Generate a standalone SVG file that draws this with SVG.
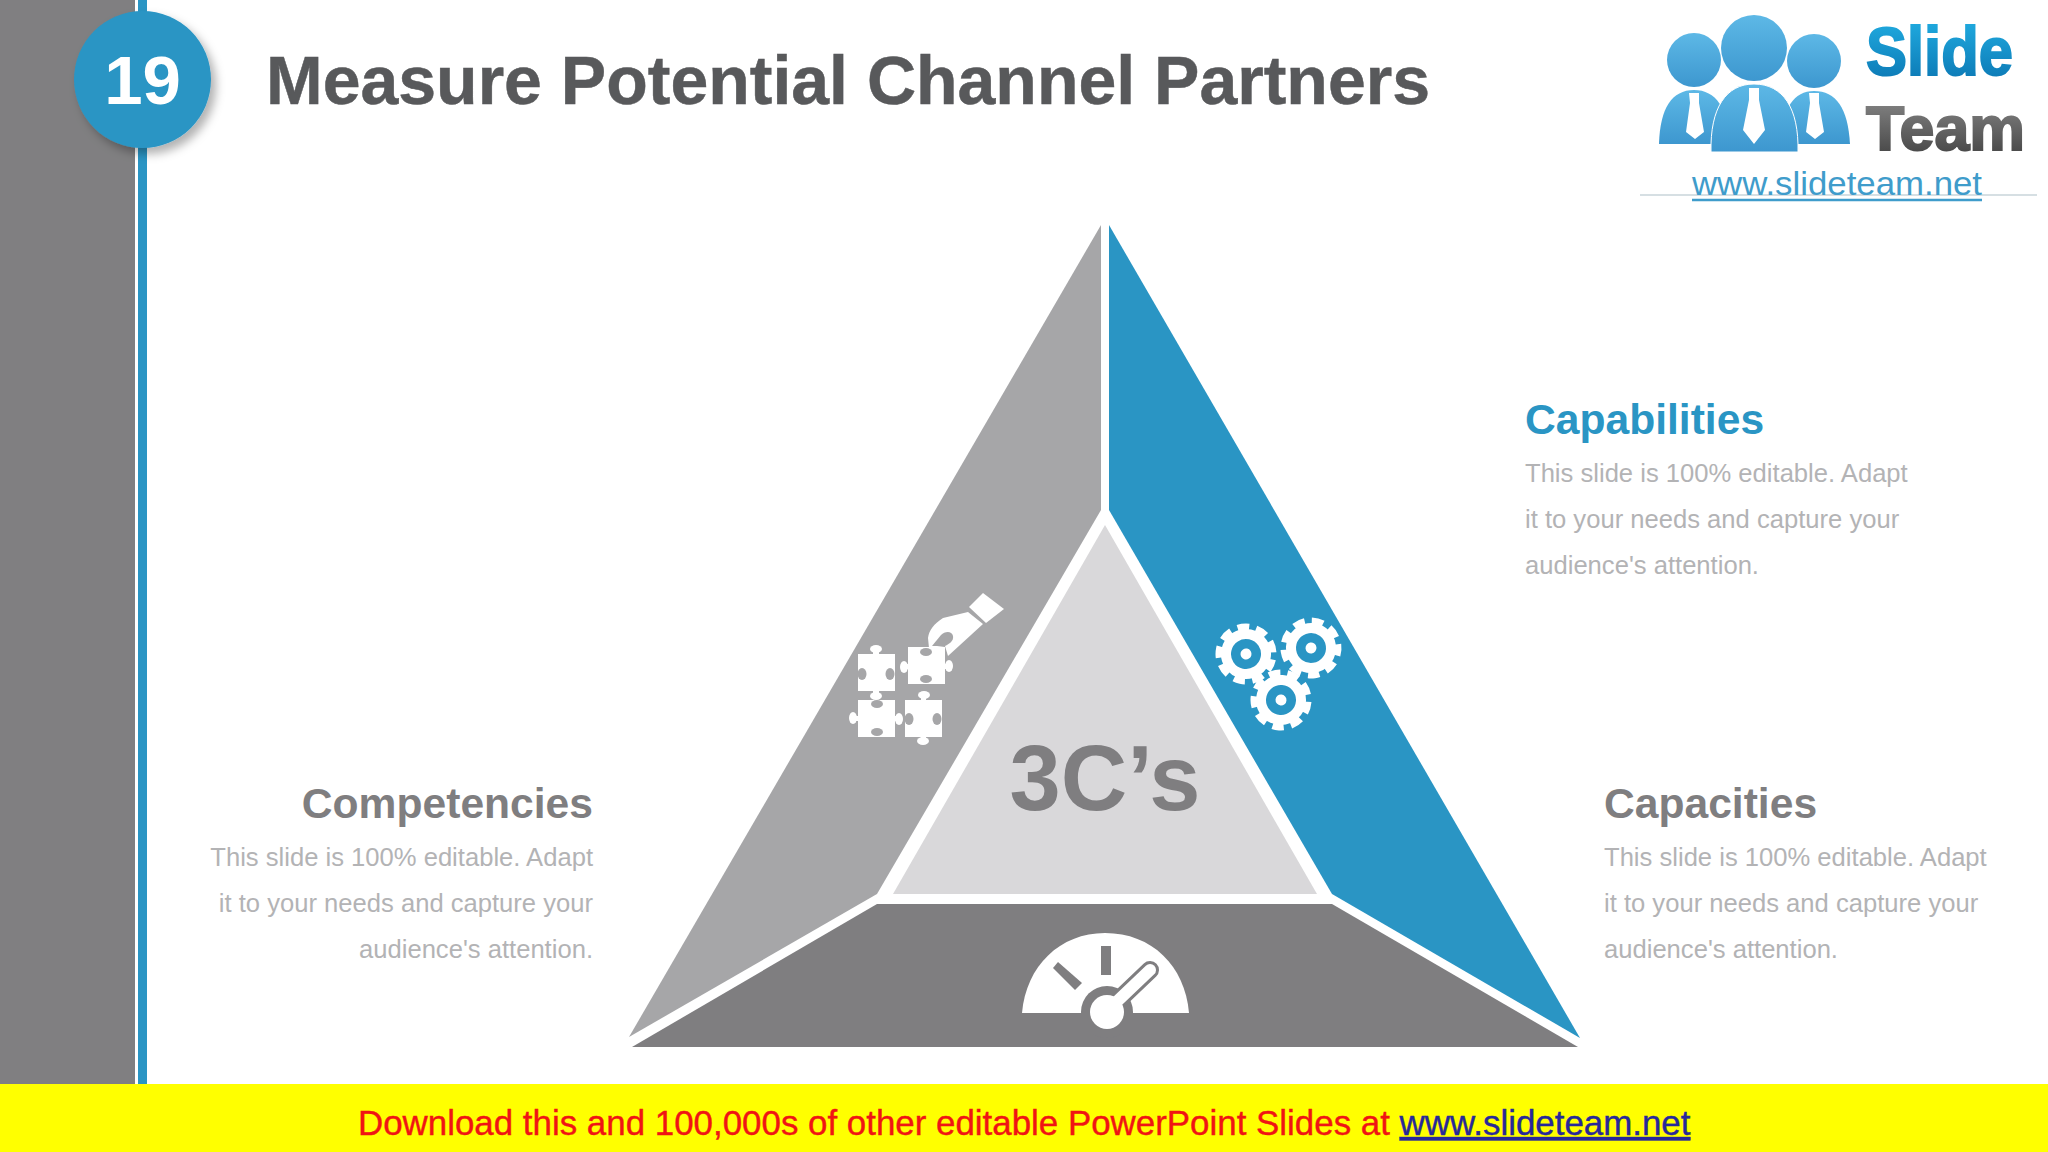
<svg xmlns="http://www.w3.org/2000/svg" width="2048" height="1152" viewBox="0 0 2048 1152">
<style>
text{font-family:"Liberation Sans",Arial,sans-serif}
.h{font-weight:700;font-size:42.6px}
.b{font-size:25.6px;fill:#b3b3b5}
.e{text-anchor:end}
.w{fill:#fff}
.gg{fill:#a6a6a8}
.dk{fill:#7f7e80}
.bl{fill:#2a95c4}
.ring{fill:none;stroke:#fff;stroke-width:10}
.teeth{fill:none;stroke:#fff;stroke-width:9;stroke-dasharray:6.8 4.31}
.head{fill:url(#lg)}
</style>
<defs>
<filter id="sh" x="-30%" y="-30%" width="170%" height="170%"><feDropShadow dx="5" dy="6" stdDeviation="5" flood-color="#000" flood-opacity=".3"/></filter>
<linearGradient id="lg" x1="0" y1="0" x2="0" y2="1"><stop offset="0" stop-color="#5db8e6"/><stop offset="1" stop-color="#3d97cf"/></linearGradient>
<linearGradient id="ls" x1="0" y1="0" x2="0" y2="1"><stop offset="0" stop-color="#22b0e4"/><stop offset="1" stop-color="#0a73b0"/></linearGradient>
<linearGradient id="lt" x1="0" y1="0" x2="0" y2="1"><stop offset="0" stop-color="#8a8a8a"/><stop offset="1" stop-color="#3f3f3f"/></linearGradient>
<g id="gear"><circle r="20" class="ring"/><circle r="26" class="teeth" pathLength="100"/><circle r="5.5" class="w"/></g>
</defs>
<rect width="2048" height="1152" fill="#fff"/>
<rect id="sidebar" width="135" height="1084" fill="#807f81"/>
<rect id="rule" x="138" width="9" height="1084" fill="#2a95c4"/>
<g id="badge"><circle cx="142.5" cy="79.5" r="68.5" class="bl" filter="url(#sh)"/><text x="142.5" y="104" text-anchor="middle" font-size="69" font-weight="700" fill="#fff">19</text></g>
<text id="title" x="266" y="104" font-size="69" font-weight="700" fill="#58595b" stroke="#58595b" stroke-width=".5" textLength="1164" lengthAdjust="spacingAndGlyphs">Measure Potential Channel Partners</text>

<g id="logo">
<circle cx="1694" cy="60" r="27" class="head"/><circle cx="1814" cy="61" r="27" class="head"/>
<path class="head" d="M1659 144C1660 108 1672 90 1694 90C1716 90 1728 108 1730 144Z"/>
<path class="head" d="M1780 144C1782 108 1794 91 1814 91C1836 91 1848 108 1850 144Z"/>
<path class="w" d="M1689 93h10v10l5 29-9 7-9-7 4-29z"/><path class="w" d="M1809 93h10v10l5 29-9 7-9-7 4-29z"/>
<circle cx="1754" cy="48" r="33" fill="url(#lg)"/>
<path class="head" stroke="#fff" stroke-width="1" d="M1711 152C1710 108 1726 84 1754 84C1783 84 1799 108 1798 152Z"/>
<path class="w" d="M1749 88h10v12l6 30-11 14-11-14 6-30z"/>
<text x="1866" y="75" font-size="68" font-weight="700" fill="url(#ls)" stroke="url(#ls)" stroke-width="2" textLength="147" lengthAdjust="spacingAndGlyphs">Slide</text>
<text x="1866" y="150" font-size="63" font-weight="700" fill="url(#lt)" stroke="url(#lt)" stroke-width="2" textLength="159" lengthAdjust="spacingAndGlyphs">Team</text>
<path d="M1640 195H2037" stroke="#c9d4da" stroke-width="1.5"/>
<text x="1692" y="195" font-size="33" fill="#3f9ccb" textLength="290" lengthAdjust="spacingAndGlyphs">www.slideteam.net</text>
<path d="M1692 200H1982" stroke="#3f9ccb" stroke-width="2.5"/>
</g>

<g id="seg-left">
<polygon class="gg" points="1101,225 1101,510 877,894 629,1037"/>
<g id="puzzle" class="w">
<rect x="858" y="654" width="37" height="37"/><ellipse cx="876" cy="649" rx="6" ry="4"/><ellipse cx="876" cy="696" rx="6" ry="4"/><rect x="873" y="650" width="6" height="46"/>
<rect x="908" y="647" width="37" height="37"/><ellipse cx="904" cy="667" rx="4" ry="6"/><ellipse cx="949" cy="666" rx="4" ry="6"/><rect x="904" y="664" width="45" height="5"/>
<rect x="858" y="700" width="37" height="37"/><ellipse cx="853" cy="718" rx="4" ry="6"/><ellipse cx="899" cy="719" rx="4" ry="6"/><rect x="853" y="716" width="46" height="5"/>
<rect x="905" y="700" width="37" height="37"/><ellipse cx="924" cy="695" rx="6" ry="4"/><ellipse cx="923" cy="741" rx="6" ry="4"/><rect x="921" y="695" width="5" height="46"/>
<polygon points="983,593 1004,609 986,623 969,607"/>
<path d="M968 612 943 618C934 624 929 630 928 638L929 648 945 646 948 656 983 624Z"/>
</g>
<g class="gg">
<ellipse cx="862" cy="674" rx="4.5" ry="6"/><ellipse cx="890" cy="674" rx="4.5" ry="6"/>
<ellipse cx="926" cy="652" rx="6" ry="4"/><ellipse cx="926" cy="679" rx="6" ry="4"/>
<ellipse cx="877" cy="704" rx="6" ry="4"/><ellipse cx="877" cy="732" rx="6" ry="4"/>
<ellipse cx="909" cy="719" rx="4.5" ry="6"/><ellipse cx="937" cy="719" rx="4.5" ry="6"/>
<path d="M932 646 941 635C945 631 952 631 953 636 954 641 949 644 945 646Z"/>
</g>
</g>

<g id="seg-right">
<polygon class="bl" points="1109,225 1580,1038 1332,894 1109,510"/>
<use href="#gear" transform="translate(1246 654) rotate(12)"/>
<use href="#gear" transform="translate(1311 648) rotate(-8)"/>
<use href="#gear" transform="translate(1281 700) rotate(4)"/>
</g>

<g id="seg-bottom">
<polygon class="dk" points="877,904 1332,904 1578,1047 632,1047"/>
<path class="w" d="M1022 1013C1026 966 1060 933 1105 933C1152 933 1185 966 1189 1013Z"/>
<circle cx="1107" cy="1012" r="26" class="dk"/>
<rect x="1080" y="1013" width="54" height="20" class="dk"/>
<rect x="1101" y="946" width="10" height="29" class="dk"/>
<polygon class="dk" points="1058,962 1082,983 1075,990 1053,968"/>
<path d="M1107 1011 1150 970" fill="none" stroke="#7f7e80" stroke-width="18" stroke-linecap="round"/>
<path d="M1107 1011 1150 970" fill="none" stroke="#fff" stroke-width="12" stroke-linecap="round"/>
<circle cx="1107" cy="1012" r="17" class="w"/>
</g>

<g id="seg-center">
<polygon fill="#d9d8da" points="1105,525 1317,894 893,894"/>
<text x="1105" y="810" text-anchor="middle" font-size="92" font-weight="700" fill="#7f7e80">3C’s</text>
</g>

<g id="capabilities"><text x="1525" y="434" class="h bl">Capabilities</text><text x="1525" y="482" class="b">This slide is 100% editable. Adapt</text><text x="1525" y="528" class="b">it to your needs and capture your</text><text x="1525" y="574" class="b">audience's attention.</text></g>
<g id="capacities"><text x="1604" y="818" class="h" fill="#7f7e80">Capacities</text><text x="1604" y="866" class="b">This slide is 100% editable. Adapt</text><text x="1604" y="912" class="b">it to your needs and capture your</text><text x="1604" y="958" class="b">audience's attention.</text></g>
<g id="competencies"><text x="593" y="818" class="h e" fill="#7f7e80">Competencies</text><text x="593" y="866" class="b e">This slide is 100% editable. Adapt</text><text x="593" y="912" class="b e">it to your needs and capture your</text><text x="593" y="958" class="b e">audience's attention.</text></g>

<g id="banner"><rect y="1084" width="2048" height="68" fill="#ff0"/>
<text x="358" y="1135" font-size="34.9" fill="#f01414" stroke="#f01414" stroke-width=".4">Download this and 100,000s of other editable PowerPoint Slides at <tspan fill="#27289a" stroke="#27289a" text-decoration="underline">www.slideteam.net</tspan></text></g>
</svg>
